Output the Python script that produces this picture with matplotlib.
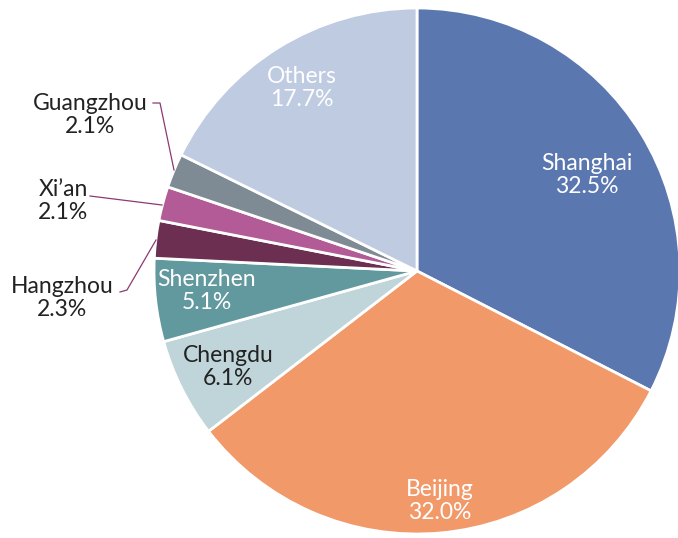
import matplotlib
matplotlib.use("Agg")
import matplotlib.pyplot as plt

cities = ["Shanghai", "Beijing", "Chengdu", "Shenzhen", "Hangzhou", "Xi\u2019an", "Guangzhou", "Others"]
shares = [32.5, 32.0, 6.1, 5.1, 2.3, 2.1, 2.1, 17.7]
colors = ["#5a77b0", "#f2996a", "#c0d5da", "#62999f", "#6c2e51", "#b35b97", "#7e8b94", "#bfcbe1"]
text_colors = ["white", "white", "#222222", "white", "#222222", "#222222", "#222222", "white"]

W, H = 678, 538
cx, cy, R = 417, 271, 263

# label positions in pixel coordinates (layout)
label_pos = {
    "Shanghai": (587, 175), "Beijing": (440, 501), "Chengdu": (228, 367),
    "Shenzhen": (207, 291), "Hangzhou": (62, 298), "Xi\u2019an": (63, 201),
    "Guangzhou": (90, 115), "Others": (302, 88),
}
leaders = {
    "Guangzhou": [(153, 103), (160, 103), (174, 170)],
    "Xi\u2019an": [(90, 196), (162, 205)],
    "Hangzhou": [(120, 292), (127, 290), (156, 240)],
}

plt.rcParams['font.family'] = ['Lato', 'DejaVu Sans']
fig = plt.figure(figsize=(W / 100, H / 100), dpi=100)
ax = fig.add_axes([0, 0, 1, 1])

ax.pie(shares, colors=colors, startangle=90, counterclock=False,
       center=(cx, H - cy), radius=R,
       wedgeprops=dict(edgecolor='white', linewidth=2))

ax.set_xlim(0, W)
ax.set_ylim(0, H)
ax.set_aspect('equal')
ax.axis('off')

for name, val, tc in zip(cities, shares, text_colors):
    x, y = label_pos[name]
    ax.text(x, H - y, f"{name}\n{val:.1f}%", ha='center', va='center',
            fontsize=16.5, fontweight='normal', color=tc, linespacing=1.12)

for name, pts in leaders.items():
    xs = [p[0] for p in pts]
    ys = [H - p[1] for p in pts]
    ax.plot(xs, ys, color="#8b3a72", lw=0.9)

fig.savefig("out.png", dpi=100)
